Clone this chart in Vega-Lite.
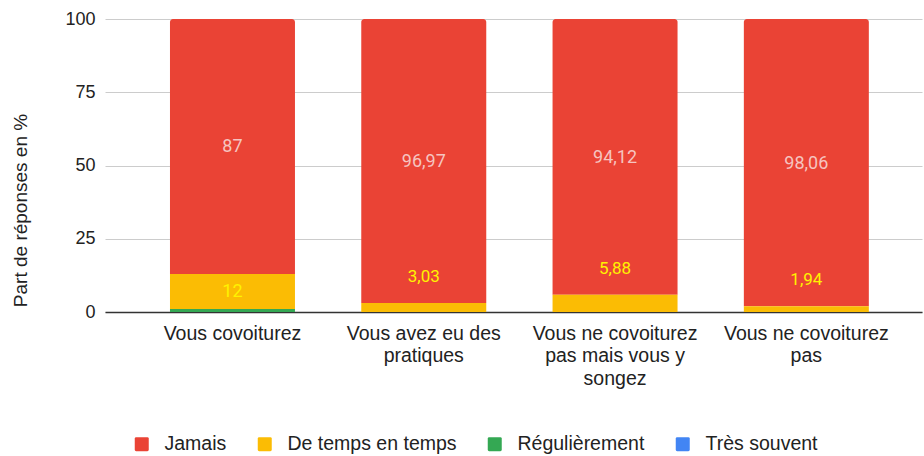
{
  "$schema": "https://vega.github.io/schema/vega-lite/v6.json",
  "width": 817,
  "height": 293,
  "autosize": {"type": "none"},
  "padding": {"left": 105, "top": 19, "right": 2, "bottom": 144},
  "background": "white",
  "config": {
    "font": "Liberation Sans",
    "view": {"stroke": null}
  },
  "data": {
    "values": [
      {"cat": "Vous covoiturez", "serie": "Jamais", "value": 87},
      {"cat": "Vous covoiturez", "serie": "De temps en temps", "value": 12},
      {"cat": "Vous covoiturez", "serie": "Régulièrement", "value": 1},
      {"cat": "Vous covoiturez", "serie": "Très souvent", "value": 0},
      {"cat": "Vous avez eu des pratiques", "serie": "Jamais", "value": 96.97},
      {"cat": "Vous avez eu des pratiques", "serie": "De temps en temps", "value": 3.03},
      {"cat": "Vous avez eu des pratiques", "serie": "Régulièrement", "value": 0},
      {"cat": "Vous avez eu des pratiques", "serie": "Très souvent", "value": 0},
      {"cat": "Vous ne covoiturez pas mais vous y songez", "serie": "Jamais", "value": 94.12},
      {"cat": "Vous ne covoiturez pas mais vous y songez", "serie": "De temps en temps", "value": 5.88},
      {"cat": "Vous ne covoiturez pas mais vous y songez", "serie": "Régulièrement", "value": 0},
      {"cat": "Vous ne covoiturez pas mais vous y songez", "serie": "Très souvent", "value": 0},
      {"cat": "Vous ne covoiturez pas", "serie": "Jamais", "value": 98.06},
      {"cat": "Vous ne covoiturez pas", "serie": "De temps en temps", "value": 1.94},
      {"cat": "Vous ne covoiturez pas", "serie": "Régulièrement", "value": 0},
      {"cat": "Vous ne covoiturez pas", "serie": "Très souvent", "value": 0}
    ]
  },
  "transform": [
    {"calculate": "indexof(['Très souvent','Régulièrement','De temps en temps','Jamais'], datum.serie)", "as": "ord"},
    {"stack": "value", "groupby": ["cat"], "sort": [{"field": "ord", "order": "ascending"}], "as": ["y0", "y1"]},
    {"calculate": "(datum.y0 + datum.y1) / 2", "as": "mid"},
    {"calculate": "replace(toString(datum.value), '.', ',')", "as": "lbl"}
  ],
  "encoding": {
    "x": {
      "field": "cat",
      "type": "nominal",
      "sort": ["Vous covoiturez", "Vous avez eu des pratiques", "Vous ne covoiturez pas mais vous y songez", "Vous ne covoiturez pas"],
      "scale": {"paddingInner": 0.3466, "paddingOuter": 0.3088, "align": 0.55},
      "axis": {
        "title": null,
        "labelAngle": 0,
        "labelFont": "Liberation Sans",
        "labelFontSize": 19.5,
        "labelColor": "#222222",
        "labelBaseline": "top",
        "labelLineHeight": 22.5,
        "labelPadding": 12,
        "labelLimit": 300,
        "ticks": false,
        "domain": true,
        "domainColor": "#333333",
        "domainWidth": 1.5,
        "labelExpr": "datum.value == 'Vous avez eu des pratiques' ? ['Vous avez eu des', 'pratiques'] : datum.value == 'Vous ne covoiturez pas mais vous y songez' ? ['Vous ne covoiturez', 'pas mais vous y', 'songez'] : datum.value == 'Vous ne covoiturez pas' ? ['Vous ne covoiturez', 'pas'] : datum.value"
      }
    }
  },
  "layer": [
    {
      "transform": [{"filter": "datum.serie == 'Jamais'"}],
      "mark": {"type": "bar", "cornerRadiusTopLeft": 3, "cornerRadiusTopRight": 3},
      "encoding": {
        "y": {
          "field": "y1",
          "type": "quantitative",
          "scale": {"domain": [0, 100], "nice": false},
          "axis": {
            "title": "Part de réponses en %",
            "titleFont": "Liberation Sans",
            "titleFontSize": 19,
            "titleFontWeight": "normal",
            "titleColor": "#222222",
            "titleX": -85,
            "titleY": 191,
            "titleAngle": -90,
            "titleAlign": "center",
            "titleBaseline": "middle",
            "values": [0, 25, 50, 75, 100],
            "labelFontSize": 18,
            "labelColor": "#222222",
            "labelPadding": 10,
            "ticks": false,
            "domain": false,
            "grid": true,
            "gridColor": "#cccccc",
            "gridWidth": 1
          }
        },
        "y2": {"field": "y0"},
        "color": {
          "field": "serie",
          "type": "nominal",
          "scale": {
            "domain": ["Jamais", "De temps en temps", "Régulièrement", "Très souvent"],
            "range": ["#ea4335", "#fbbc04", "#34a853", "#4285f4"]
          },
          "legend": {
            "title": null,
            "orient": "none",
            "direction": "horizontal",
            "legendX": 27,
            "legendY": 415,
            "symbolType": "M-0.8,-1H0.8Q1,-1 1,-0.8V0.8Q1,1 0.8,1H-0.8Q-1,1 -1,0.8V-0.8Q-1,-1 -0.8,-1Z",
            "symbolSize": 196,
            "symbolStrokeWidth": 0,
            "symbolOpacity": 1,
            "labelFontSize": 19.5,
            "labelColor": "#222222",
            "labelLimit": 300,
            "labelOffset": 13,
            "columnPadding": 28
          }
        }
      }
    },
    {
      "transform": [{"filter": "datum.serie != 'Jamais' && datum.value > 0"}],
      "mark": {"type": "bar"},
      "encoding": {
        "y": {"field": "y1", "type": "quantitative"},
        "y2": {"field": "y0"},
        "color": {"field": "serie", "type": "nominal"}
      }
    },
    {
      "transform": [{"filter": "datum.value >= 10"}],
      "mark": {"type": "text", "font": "Roboto", "fontSize": 18, "baseline": "middle", "align": "center", "dy": 1},
      "encoding": {
        "y": {"field": "mid", "type": "quantitative"},
        "text": {"field": "lbl"},
        "color": {
          "condition": {"test": "datum.serie == 'Jamais'", "value": "#f6c4c0"},
          "value": "#fff200"
        }
      }
    },
    {
      "transform": [{"filter": "datum.serie == 'De temps en temps' && datum.value > 0 && datum.value < 10"}],
      "mark": {"type": "text", "font": "Roboto", "fontSize": 17, "baseline": "middle", "align": "center", "dy": -26, "color": "#fff200"},
      "encoding": {
        "y": {"field": "y1", "type": "quantitative"},
        "text": {"field": "lbl"}
      }
    }
  ]
}
